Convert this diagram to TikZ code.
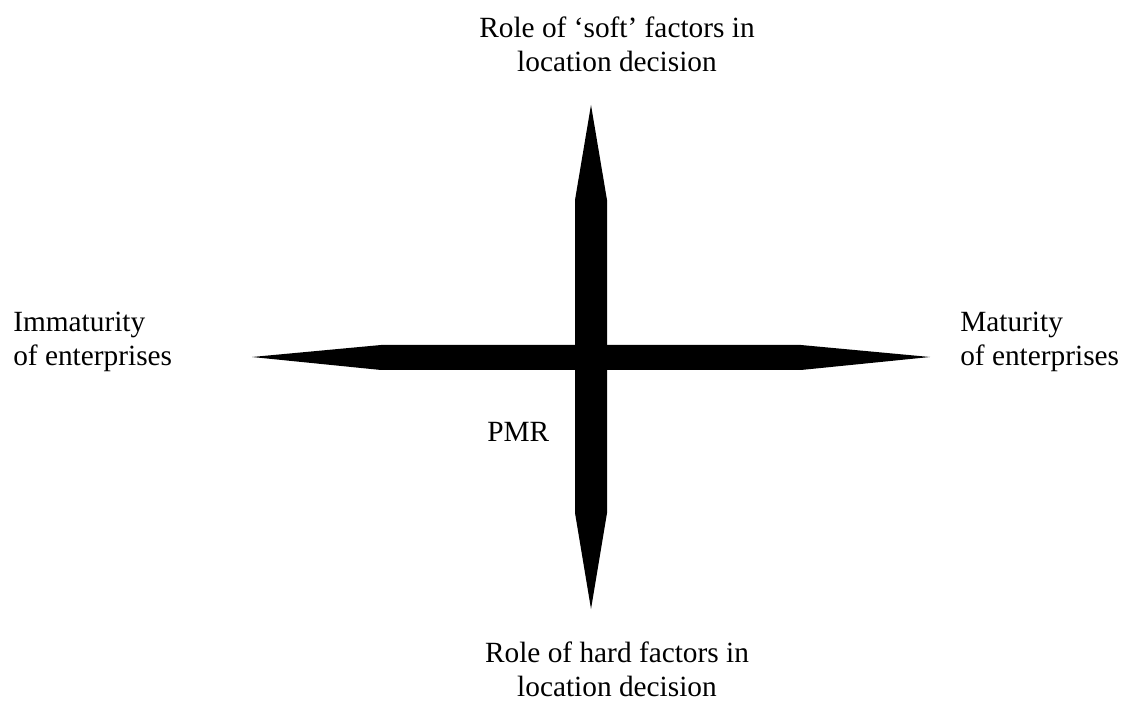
\documentclass[tikz,border=0pt]{standalone}
\usepackage{fontspec}
\setmainfont{Liberation Serif}
\usepackage{tikz}
\usetikzlibrary{positioning}

\begin{document}
\begin{tikzpicture}[x=0.75pt, y=-0.75pt,
  lbl/.style={align=center, inner sep=0pt, font=\fontsize{22}{25.5}\selectfont}]
\useasboundingbox (0,0) rectangle (1122,709);
% cross of tapered bars
\coordinate (c) at (591,357);
\fill (591,105) -- (607,200) -- (607,513) -- (591,609) -- (575,513) -- (575,200) -- cycle;
\fill (252,357) -- (381,345) -- (801,345) -- (930,357) -- (801,370) -- (381,370) -- cycle;
% labels
\node[lbl, anchor=north] (soft) at (617,17) {Role of ‘soft’ factors in\\location decision};
\node[lbl, anchor=north] (hard) at (617,642) {Role of hard factors in\\location decision};
\node[lbl, anchor=north west, align=left] (immat) at (13,312) {Immaturity\\of enterprises};
\node[lbl, anchor=north west, align=left] (mat) at (960,312) {Maturity\\of enterprises};
\node[lbl, anchor=base west] (pmr) at (487,442) {PMR};
\end{tikzpicture}
\end{document}
